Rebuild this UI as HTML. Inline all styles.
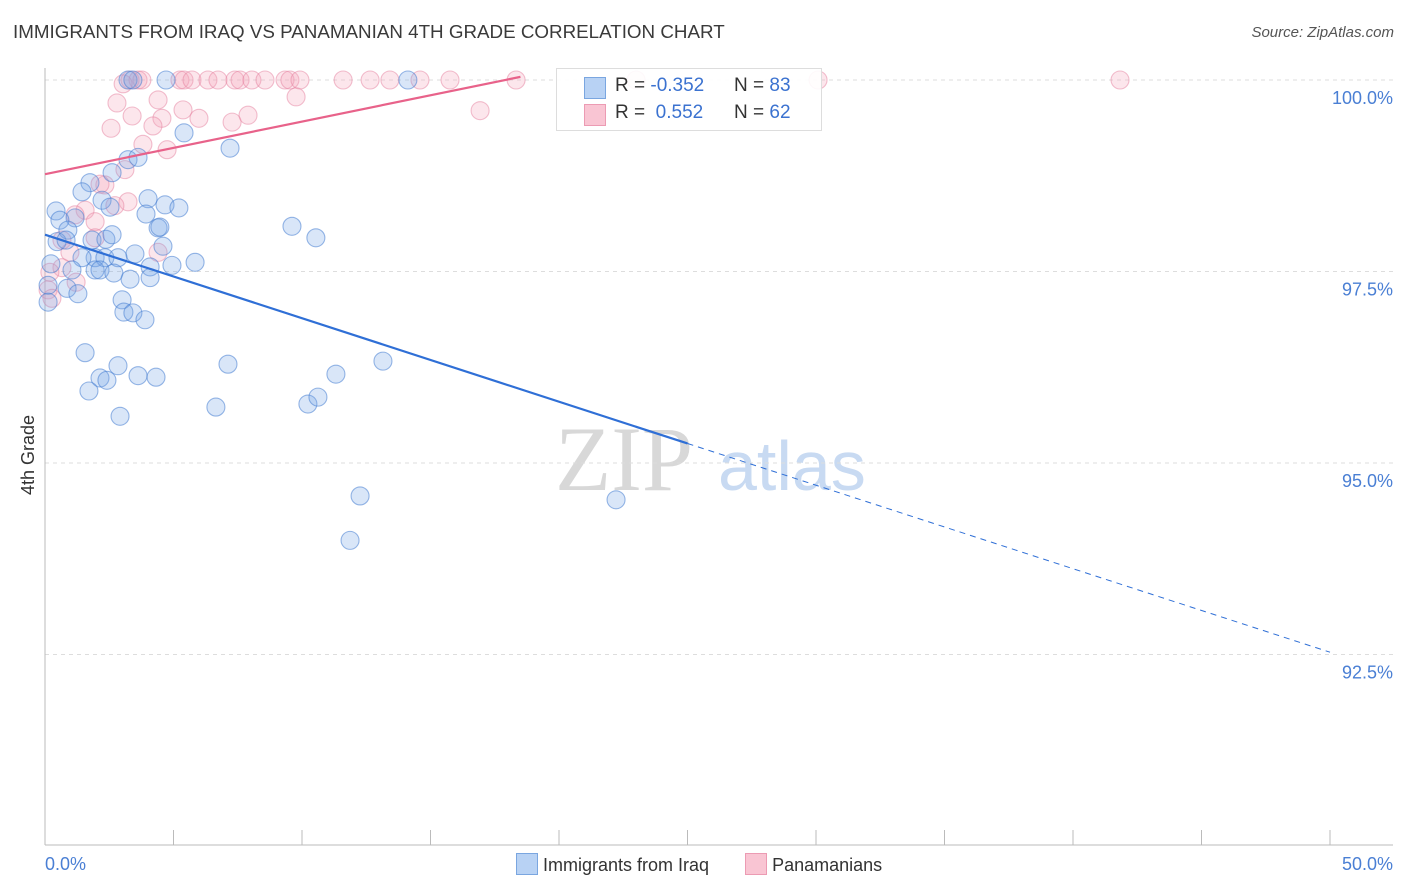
<!DOCTYPE html>
<html><head><meta charset="utf-8"><style>
body{margin:0;background:#fff;font-family:"Liberation Sans",sans-serif}
#wrap{position:relative;width:1406px;height:892px;overflow:hidden}
.title{position:absolute;left:13px;top:21px;font-size:18.8px;color:#3a3a3a}
.src{position:absolute;right:12px;top:24px;font-size:15px;color:#555;font-style:italic}
</style></head><body>
<div id="wrap">
<div class="title">IMMIGRANTS FROM IRAQ VS PANAMANIAN 4TH GRADE CORRELATION CHART</div>
<div class="src">Source: ZipAtlas.com</div>
<svg id="svg" width="1406" height="892" style="position:absolute;left:0;top:0">
<text x="555" y="490" font-family="Liberation Serif" font-size="92" fill="#d8d8d8">ZIP</text>
<text x="718" y="490" font-family="Liberation Sans" font-size="70" fill="#c8daf2">atlas</text>
<text transform="translate(34,455) rotate(-90)" text-anchor="middle" font-size="18" fill="#333">4th Grade</text>
<text x="45" y="870" font-size="18" fill="#4a7fd4">0.0%</text>
<text x="1393" y="870" text-anchor="end" font-size="18" fill="#4a7fd4">50.0%</text>
</svg>
<div style="position:absolute;left:556px;top:68px;width:264px;height:61px;border:1px solid #ddd;background:rgba(255,255,255,0.9);font-size:19px;color:#333">
 <div style="position:absolute;left:27px;top:8px;width:20px;height:20px;background:#b8d2f4;border:1px solid #7aa6e0"></div>
 <div style="position:absolute;left:58px;top:6px">R = <span style="color:#3b72d0">-0.352</span></div>
 <div style="position:absolute;left:177px;top:6px">N = <span style="color:#3b72d0">83</span></div>
 <div style="position:absolute;left:27px;top:35px;width:20px;height:20px;background:#f9c5d3;border:1px solid #ec9bb3"></div>
 <div style="position:absolute;left:58px;top:33px">R = &nbsp;<span style="color:#3b72d0">0.552</span></div>
 <div style="position:absolute;left:177px;top:33px">N = <span style="color:#3b72d0">62</span></div>
</div>
<div style="position:absolute;left:516px;top:853px;font-size:18px;color:#333;white-space:nowrap">
 <span><span style="display:inline-block;width:20px;height:20px;background:#b8d2f4;border:1px solid #7aa6e0;vertical-align:-4px"></span> Immigrants from Iraq</span>
 <span style="display:inline-block;width:26px"></span>
 <span><span style="display:inline-block;width:20px;height:20px;background:#f9c5d3;border:1px solid #ec9bb3;vertical-align:-4px"></span> Panamanians</span>
</div>
</div>
<script>
const yTicks=[100,97.5,95,92.5];
const yTickLabels=["100.0%","97.5%","95.0%","92.5%"];
const blueX=[3.23,3.42,4.71,14.12,5.41,7.20,3.23,3.62,2.61,1.75,1.44,4.01,2.22,2.53,0.43,4.67,5.21,3.93,1.17,0.58,0.89,4.40,4.47,9.61,10.54,0.47,0.82,1.83,2.37,2.61,4.59,3.50,1.95,2.33,2.84,1.44,1.05,1.95,2.14,2.68,4.09,4.94,5.84,0.23,3.31,4.09,0.12,0.86,1.28,3.00,3.07,3.42,3.89,0.12,1.56,2.84,7.12,2.14,2.41,3.62,4.32,1.71,2.92,6.65,10.23,10.62,11.32,13.15,12.26,11.87,22.22];
const blueY=[100,100,100,100,99.31,99.11,98.96,98.99,98.79,98.66,98.54,98.45,98.43,98.34,98.29,98.37,98.33,98.25,98.20,98.17,98.04,98.07,98.08,98.09,97.94,97.89,97.91,97.91,97.92,97.98,97.83,97.73,97.68,97.68,97.68,97.68,97.52,97.52,97.52,97.48,97.56,97.58,97.62,97.60,97.40,97.42,97.32,97.28,97.21,97.13,96.97,96.96,96.87,97.10,96.44,96.27,96.29,96.11,96.08,96.14,96.12,95.94,95.61,95.73,95.77,95.86,96.16,96.33,94.57,93.99,94.52];
const pinkX=[3.31,3.62,3.77,5.25,5.41,5.72,6.34,6.73,7.39,7.59,8.05,8.56,9.34,9.53,9.92,11.60,12.65,13.42,14.59,15.76,18.33,23.00,30.08,41.83,3.04,2.80,4.40,5.37,9.77,16.93,3.39,4.55,5.99,7.90,7.28,2.57,4.20,3.81,4.75,3.11,2.33,2.14,3.23,2.72,1.56,1.17,1.95,0.66,1.95,0.97,4.40,0.66,0.19,0.12,1.21,0.27];
const pinkY=[100,100,100,100,100,100,100,100,100,100,100,100,100,100,100,100,100,100,100,100,100,100,100,100,99.95,99.70,99.74,99.61,99.78,99.60,99.53,99.50,99.50,99.54,99.45,99.37,99.40,99.16,99.09,98.83,98.63,98.64,98.41,98.36,98.30,98.24,98.15,97.91,97.94,97.75,97.75,97.55,97.49,97.26,97.36,97.15];
const blueTrend=[97.98,-0.109]; // intercept, slope
const pinkTrend=[98.77,0.0687];

const X0=45,X1=1330,Y100=80,PX=191.5/2.5;
const sx=v=>X0+(v/50)*(X1-X0);
const sy=v=>Y100+(100-v)*PX;
const svg=document.getElementById('svg');
const NS='http://www.w3.org/2000/svg';
function mk(t,a){const e=document.createElementNS(NS,t);for(const k in a)e.setAttribute(k,a[k]);svg.appendChild(e);return e;}
yTicks.forEach((t,i)=>{
 const g=mk('line',{x1:X0,x2:1393,y1:sy(t),y2:sy(t),stroke:'#ddd','stroke-dasharray':'4,4'});
 
 
 const l=mk('text',{x:1393,y:sy(t)+24,'text-anchor':'end','font-size':18,fill:'#4a7fd4'});
 l.textContent=yTickLabels[i];
 
 
});
const ax=mk('line',{x1:X0,x2:1393,y1:845,y2:845,stroke:'#bbb'});


const ay=mk('line',{x1:X0,x2:X0,y1:68,y2:845,stroke:'#bbb'});


for(let i=0;i<=10;i++){const t=mk('line',{x1:sx(i*5),x2:sx(i*5),y1:830,y2:845,stroke:'#bbb'});
 
 }
pinkX.forEach((x,i)=>{const c=mk('circle',{cx:sx(x),cy:sy(pinkY[i]),r:9,fill:'rgba(245,165,188,0.28)',stroke:'rgba(230,130,160,0.5)','stroke-width':1.1});
 
 });
blueX.forEach((x,i)=>{const c=mk('circle',{cx:sx(x),cy:sy(blueY[i]),r:9,fill:'rgba(120,165,230,0.28)',stroke:'rgba(70,125,210,0.55)','stroke-width':1.1});
 
 });
const by=x=>blueTrend[0]+blueTrend[1]*x, py=x=>pinkTrend[0]+pinkTrend[1]*x;
const b1=mk('line',{x1:sx(0),y1:sy(by(0)),x2:sx(25),y2:sy(by(25)),stroke:'#2f6fd6','stroke-width':2.2});


const b2=mk('line',{x1:sx(25),y1:sy(by(25)),x2:sx(50),y2:sy(by(50)),stroke:'#2f6fd6','stroke-width':1,'stroke-dasharray':'6,5'});


const p1=mk('line',{x1:sx(0),y1:sy(py(0)),x2:sx(18.5),y2:sy(py(18.5)),stroke:'#e8628a','stroke-width':2.2});


</script>
</body></html>
